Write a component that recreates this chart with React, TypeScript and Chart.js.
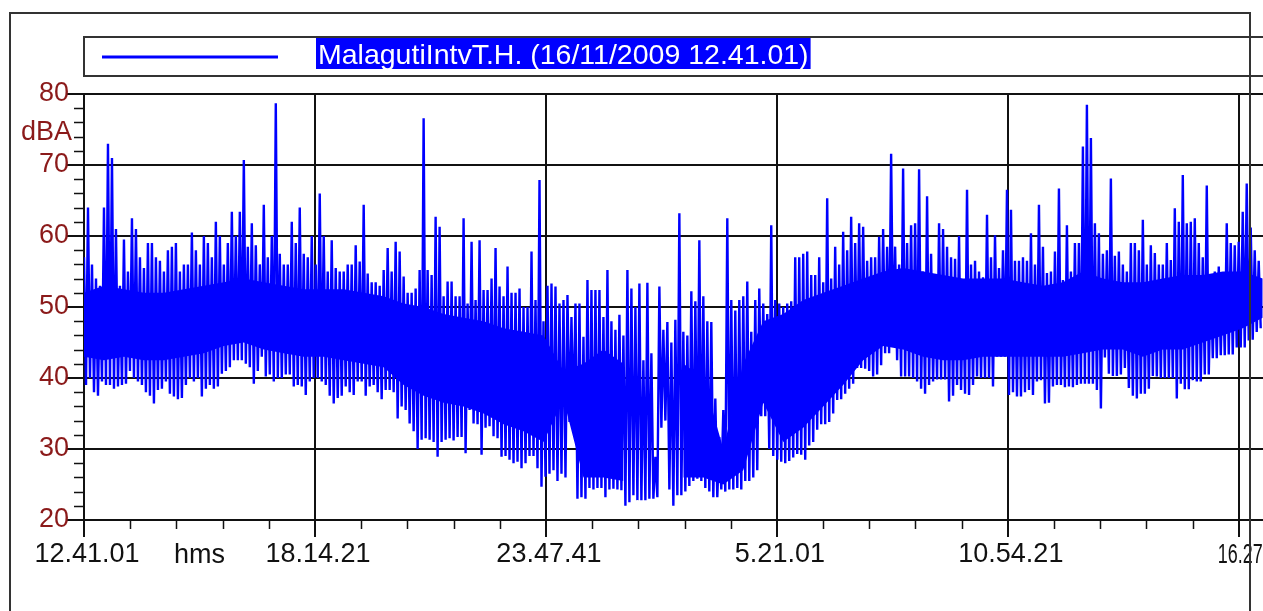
import React, { useEffect, useRef } from "react";
import { Chart, registerables } from "chart.js";

Chart.register(...registerables);

const FONT = '"Liberation Sans", Arial, Helvetica, sans-serif';
const SERIES_NAME = "MalagutiIntvT.H. (16/11/2009 12.41.01)";
const Y_UNIT = "dBA";
const X_UNIT = "hms";

// logger sampling step and time axis (seconds from 12.41.01)
const SAMPLE_INTERVAL_S = 173;
const CORE_STEP_S = 1730;
const X_MAX_S = 104000;
const X_MAJOR_S = 20000;
const X_MINOR_S = 4000;
const timeLabels = ["12.41.01", "18.14.21", "23.47.41", "5.21.01", "10.54.21", "16.27.41"];

const Y_MIN = 20;
const Y_MAX = 80;
const Y_MAJOR = 10;
const Y_MINOR = 2;

// Successive local maxima / minima of the sound level (dBA)
const peakLevels = [
  57, 64, 56, 54, 53, 64, 73, 71, 61, 53, 59.5, 55, 62.5, 61, 57, 55.5, 59, 59, 57, 56.5,
  55, 58, 58.5, 59, 55, 56, 56, 60.5, 58, 56, 60, 59, 57, 62, 60, 56, 59, 63.4, 60, 63.4,
  70.7, 58.5, 61.8, 58.7, 56, 64.4, 57, 60, 78.7, 57.5, 56, 56, 62, 59, 64, 57.5, 57, 60, 56,
  66, 60, 55, 59.4, 55.5, 55, 55, 56, 56, 58.7, 56.4, 64.4, 54.7, 53.5, 53.5, 53, 55.2, 58.3, 55, 59.2,
  57.8, 54.3, 52, 52, 52.6, 55.2, 76.6, 55.2, 54.5, 62.7, 61.3, 51.5, 53.6, 53.6, 51.5, 51.5, 62.5, 50.5, 59.2, 51,
  59.4, 52.4, 52.4, 54, 58.3, 52.9, 51.5, 55.7, 52, 52, 52.6, 50, 50, 57.8, 51, 67.9, 48, 53, 53.3,
  52.9, 50.5, 51, 51.7, 48.6, 50.5, 50.5, 45.8, 53.8, 52.4, 52.4, 52.4, 48.6, 55.2, 48, 46.8, 48.9, 46, 55.2, 52.6,
  50, 53.3, 42.5, 53.4, 43.5, 28.9, 52.9, 46.8, 47.9, 45, 48.2, 63.2, 46.5, 46, 52.2, 50.8, 59.4, 51.5, 48, 47.9,
  37.1, 31.7, 35.5, 62.5, 51, 49.5, 51, 51.5, 53.6, 46.5, 51, 52.6, 50.5, 49, 61.5, 51, 50.5, 50, 50.5,
  50.8, 57, 57, 57.5, 57.8, 54.5, 54.5, 57, 53.5, 65.3, 54, 58.5, 56, 60.6, 58, 62.7, 59, 61.8, 61.3, 56.5,
  57, 57, 59.9, 61, 58.5, 71.6, 58.5, 56, 69.5, 59, 61.5, 61.8, 69.4, 55, 65.6, 57.5, 53.1, 61.8, 61, 58.5,
  57, 56.8, 60, 53.5, 66.5, 56, 56.5, 55, 54.2, 63, 57, 60.1, 55.5, 58, 66.5, 63.7, 56.5, 56.5, 57,
  56.5, 60.4, 56, 64.4, 58.5, 54.8, 55, 57.8, 66.7, 53.8, 61.5, 55, 59, 59, 72.6, 78.5, 73.8, 61.8, 60.4, 57.5,
  58, 68.1, 57.2, 57.8, 56, 55, 59, 59, 58, 62.3, 56, 58.7, 57.6, 56, 56, 59, 56.6, 63.9, 62, 68.6,
  61.8, 62, 62.5, 59, 57, 67.1, 54.5, 55, 55.7, 54.5, 61.8, 59, 58.7, 59.2, 63.4, 67.4, 61.2, 58, 56.5,
];

const dipLevels = [
  39, 40, 38, 37.5, 39.5, 39, 39, 38.5, 38.8, 39, 39.2, 41, 40, 39.5, 39, 38, 37.5, 36.4, 38.3, 38.5,
  39.5, 37.8, 37.4, 37, 37.2, 39, 40, 39.5, 40, 37.4, 38.5, 39, 38.5, 38.8, 40.6, 41, 41.5, 42.5, 42.5, 42.5,
  42, 41.5, 39.2, 41, 43, 40.2, 40.5, 39.5, 40, 40, 40.5, 40.5, 38.8, 39, 38.8, 37.6, 39.5, 40, 40,
  39.5, 39, 37.5, 36.4, 37.2, 37.5, 38.8, 38, 37.6, 39.5, 39.5, 37.5, 38.8, 39, 38, 37, 38.3, 38.3, 38, 34.3,
  36, 35.5, 33.6, 32.5, 30, 31.3, 31.5, 31.3, 31, 28.9, 31, 31.3, 31.5, 31.2, 31.7, 31.7, 29.4, 35.5, 33.6, 33.5,
  29.2, 33, 33.2, 31.8, 31.5, 28.9, 29, 28.5, 28, 28.2, 27.3, 28, 29, 29, 27.3, 24.7, 26.1, 26.5, 27,
  25.5, 26.5, 26, 33.8, 33.8, 23, 23.2, 23, 24.5, 24.3, 24.5, 24.5, 23.2, 24.3, 24.4, 24.3, 24.2, 22, 22.5, 23.5,
  22.8, 22.8, 22.8, 23, 23, 23.2, 33, 34, 24.3, 22, 23.5, 23.5, 24, 24.8, 25.5, 25.8, 25.5, 24.5, 24, 23.2,
  23.2, 24.3, 24, 24.3, 24.3, 24.5, 24.3, 25.5, 25.5, 26, 27, 34.6, 34.6, 30, 29, 28.5, 28.2, 28, 28.3,
  28.8, 29.3, 29.2, 28.5, 30.5, 31, 32.7, 33.5, 33.5, 33.8, 35, 36.9, 37, 37.8, 38.5, 39.2, 41.4, 41.4, 41.3, 41,
  40.2, 40.5, 41.8, 43.5, 43.5, 45.1, 42.5, 40.2, 40.2, 40.2, 40, 39.5, 38.5, 37.8, 39, 39.5, 39.8, 39.8, 39.8, 36.7,
  37.5, 39, 38.3, 37.8, 37.6, 39, 40.2, 40, 40, 40, 38.8, 43, 43, 43, 37.6, 38, 37.4, 37.4, 38,
  38.3, 37.6, 39.5, 39.7, 36.4, 36.5, 38.8, 39, 39, 38.7, 38.8, 38.7, 39, 39.2, 39.2, 39.2, 39.2, 38.3, 35.7, 42.9,
  40.6, 40.3, 40.3, 40.5, 41.4, 38.6, 37.5, 37.1, 37.8, 37.8, 38.5, 40.3, 40.2, 40, 40, 40, 40, 37.1, 39.2, 38.4,
  38.4, 39.7, 39.5, 39.5, 40.5, 40.5, 42.8, 42.8, 43.2, 43.2, 43.3, 43.3, 44.3, 44.3, 44.3, 45.3, 45.4, 46.5, 47,
];

// Dense band where the trace is continuously saturated (dBA, every CORE_STEP_S); null = no dense band
const coreTop: (number | null)[] = [
  52, 53, 52.5, 52, 52, 52.5, 53, 53.5, 54, 53.5, 53, 52.5,
  52.5, 52.5, 52, 51.5, 50.5, 50, 49, 48.5, 48, 47, 46.5, 46,
  41, 42, 44, 42, null, null, 42, 40, 30, 42,
  48,
  49, 51, 52, 53, 54, 55, 55.5, 55, 54.5, 54, 54, 54,
  53.5, 53, 53.5, 55, 54, 53.5, 53.5, 54, 54.5, 54.5, 55, 55, 54,
];
const coreBottom: (number | null)[] = [
  43, 42.5, 43, 42.5, 42.5, 43, 43.5, 44.5, 45, 44, 43.5, 43,
  43, 42.5, 42, 41.5, 39, 37.5, 36.5, 36, 35, 33.5, 32.5, 31,
  37, 26, 26, 25.5, null, null, 26, 26, 25, 27,
  36.5,
  31, 33, 36, 39, 42.5, 44.5, 44, 43, 42.5, 42.5, 43, 43,
  43, 43, 43, 43.5, 44, 44, 43, 44, 44, 45, 46, 47, 48.5,
];

const INK = "#111111";
const FRAME = "#333333";
const Y_LABEL_COLOR = "#8b1a1a";
const SERIES_COLOR = "#0000ff";

const CANVAS_W = 1300;
const CANVAS_H = 611;

const isMajorX = (v: number) => v % X_MAJOR_S === 0 && v < X_MAX_S;
const isMajorY = (v: number) => v % Y_MAJOR === 0;

// Extra decorations: minor ticks, unit labels, legend strip and page frame
const decorations = {
  id: "decorations",
  afterDraw(chart: any) {
    const ctx: CanvasRenderingContext2D = chart.ctx;
    const xs = chart.scales.x;
    const ys = chart.scales.y;
    const left = chart.chartArea.left;
    const bottom = chart.chartArea.bottom;
    ctx.save();

    // minor tick marks
    ctx.strokeStyle = INK;
    ctx.lineWidth = 1.5;
    ctx.beginPath();
    for (let v = Y_MIN; v <= Y_MAX; v += Y_MINOR) {
      if (isMajorY(v)) continue;
      const y = Math.round(ys.getPixelForValue(v)) + 0.5;
      ctx.moveTo(left - 10, y);
      ctx.lineTo(left, y);
    }
    for (let t = X_MINOR_S; t < X_MAX_S; t += X_MINOR_S) {
      if (isMajorX(t)) continue;
      const x = Math.round(xs.getPixelForValue(t)) + 0.5;
      ctx.moveTo(x, bottom);
      ctx.lineTo(x, bottom + 9);
    }
    ctx.stroke();

    // unit labels
    ctx.font = `27px ${FONT}`;
    ctx.textBaseline = "alphabetic";
    ctx.fillStyle = Y_LABEL_COLOR;
    ctx.textAlign = "right";
    ctx.fillText(Y_UNIT, left - 12, ys.getPixelForValue(Y_MAX - 2) + 32);

    ctx.fillStyle = INK;
    ctx.textAlign = "center";
    const labelBase = bottom + 43;
    ctx.fillText(X_UNIT, xs.getPixelForValue(X_MAJOR_S * 0.5), labelBase);
    // last time label is squeezed against the frame, right of its grid line
    ctx.textAlign = "left";
    ctx.fillText(timeLabels[5], xs.getPixelForValue(5 * X_MAJOR_S) - 21, labelBase, 70);

    // legend strip
    ctx.strokeStyle = FRAME;
    ctx.lineWidth = 2;
    ctx.strokeRect(84, 37, 1400, 39);
    ctx.strokeStyle = SERIES_COLOR;
    ctx.lineWidth = 3;
    ctx.beginPath();
    ctx.moveTo(102, 57);
    ctx.lineTo(278, 57);
    ctx.stroke();
    ctx.font = `28.5px ${FONT}`;
    const tw = ctx.measureText(SERIES_NAME).width;
    ctx.fillStyle = SERIES_COLOR;
    ctx.fillRect(316, 38, tw + 4, 31);
    ctx.fillStyle = "#ffffff";
    ctx.textAlign = "left";
    ctx.fillText(SERIES_NAME, 318, 64);

    // page frame
    ctx.strokeStyle = FRAME;
    ctx.lineWidth = 2;
    ctx.beginPath();
    ctx.moveTo(10, CANVAS_H);
    ctx.lineTo(10, 13);
    ctx.lineTo(1250, 13);
    ctx.lineTo(1250, CANVAS_H);
    ctx.stroke();

    ctx.restore();
  },
};

export default function App() {
  const canvasRef = useRef<HTMLCanvasElement | null>(null);

  useEffect(() => {
    const canvas = canvasRef.current;
    if (!canvas) return;

    const points: { x: number; y: number }[] = [];
    peakLevels.forEach((p, i) => {
      points.push({ x: 2 * i * SAMPLE_INTERVAL_S, y: p });
      points.push({ x: (2 * i + 1) * SAMPLE_INTERVAL_S, y: dipLevels[i] });
    });
    const coreUpper = coreTop.map((v, k) => ({ x: k * CORE_STEP_S, y: v }));
    const coreLower = coreBottom.map((v, k) => ({ x: k * CORE_STEP_S, y: v }));

    const chart = new Chart(canvas, {
      type: "line",
      data: {
        datasets: [
          {
            label: "core-upper",
            data: coreUpper as any,
            borderColor: "rgba(0,0,0,0)",
            borderWidth: 1,
            pointRadius: 0,
            fill: false,
            spanGaps: false,
          },
          {
            label: "core-lower",
            data: coreLower as any,
            borderColor: "rgba(0,0,0,0)",
            borderWidth: 1,
            backgroundColor: SERIES_COLOR,
            pointRadius: 0,
            fill: "-1",
            spanGaps: false,
          },
          {
            label: SERIES_NAME,
            data: points,
            borderColor: SERIES_COLOR,
            borderWidth: 2.4,
            pointRadius: 0,
            tension: 0,
            fill: false,
          },
        ],
      },
      options: {
        animation: false,
        responsive: false,
        devicePixelRatio: 1,
        events: [],
        layout: { padding: { left: 0, top: 94, right: 15, bottom: 31 } },
        plugins: { legend: { display: false }, tooltip: { enabled: false } },
        scales: {
          x: {
            type: "linear",
            min: 0,
            max: X_MAX_S,
            afterFit: (s: any) => {
              s.height = 60;
            },
            ticks: {
              stepSize: X_MINOR_S,
              autoSkip: false,
              maxRotation: 0,
              padding: 1,
              labelOffset: 3,
              color: INK,
              font: { family: FONT, size: 27 },
              callback: (v: any) => {
                const n = Number(v);
                if (!isMajorX(n)) return "";
                const idx = n / X_MAJOR_S;
                return idx < 5 ? timeLabels[idx] : "";
              },
            },
            grid: {
              lineWidth: 2,
              tickLength: 17,
              color: (c: any) => (isMajorX(c.tick?.value ?? -1) ? INK : "rgba(0,0,0,0)"),
              tickColor: (c: any) => (isMajorX(c.tick?.value ?? -1) ? INK : "rgba(0,0,0,0)"),
            },
            border: { display: true, color: INK, width: 2 },
          },
          y: {
            min: Y_MIN,
            max: Y_MAX,
            afterFit: (s: any) => {
              s.width = 84;
            },
            ticks: {
              stepSize: Y_MINOR,
              autoSkip: false,
              padding: -2,
              color: Y_LABEL_COLOR,
              font: { family: FONT, size: 27 },
              callback: (v: any) => (isMajorY(Number(v)) ? String(v) : ""),
            },
            grid: {
              lineWidth: 2,
              tickLength: 17,
              color: (c: any) => (isMajorY(c.tick?.value ?? 1) ? INK : "rgba(0,0,0,0)"),
              tickColor: (c: any) => (isMajorY(c.tick?.value ?? 1) ? INK : "rgba(0,0,0,0)"),
            },
            border: { display: true, color: INK, width: 2 },
          },
        },
      },
      plugins: [decorations],
    });

    return () => chart.destroy();
  }, []);

  return (
    <div
      style={{
        position: "absolute",
        left: 0,
        top: 0,
        width: 1263,
        height: 611,
        overflow: "hidden",
        background: "#ffffff",
      }}
    >
      <canvas
        ref={canvasRef}
        width={CANVAS_W}
        height={CANVAS_H}
        style={{ display: "block", width: CANVAS_W, height: CANVAS_H }}
      />
    </div>
  );
}
